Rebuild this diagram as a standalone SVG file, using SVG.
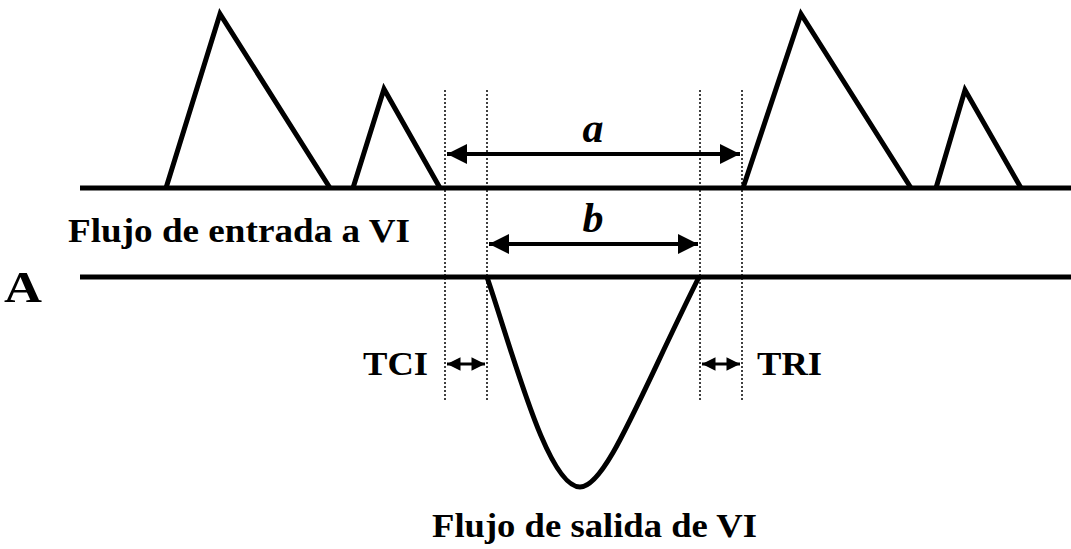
<svg xmlns="http://www.w3.org/2000/svg" width="1071" height="549" viewBox="0 0 1071 549">
<style>
.ln{fill:none;stroke:#000;stroke-width:5;stroke-linejoin:miter}
.dot{stroke:#000;stroke-width:1.5;stroke-dasharray:2 2}
.ar{stroke:#000;stroke-width:4}
.sa{stroke:#000;stroke-width:3}
.t{font-family:"Liberation Serif","DejaVu Serif","Times New Roman",Times,serif;font-weight:bold;fill:#000}
</style>
<defs>
<marker id="ah" viewBox="0 0 10 10" refX="10" refY="5" markerWidth="7" markerHeight="5" orient="auto-start-reverse" markerUnits="strokeWidth"><path d="M0,0L10,5L0,10z" fill="#000"/></marker>
<marker id="sh" viewBox="0 0 10 10" refX="10" refY="5" markerWidth="5" markerHeight="4.5" orient="auto-start-reverse" markerUnits="strokeWidth"><path d="M0,0L10,5L0,10z" fill="#000"/></marker>
</defs>
<g id="inflow">
<line class="ln" x1="80" y1="188" x2="1071" y2="188"/>
<polyline class="ln" points="166,188 220,14 330,188"/>
<polyline class="ln" points="353,188 384,89 440,188"/>
<polyline class="ln" points="743,188 801,14 911,188"/>
<polyline class="ln" points="936,188 965,90 1021,188"/>
</g>
<g id="outflow">
<line class="ln" x1="80" y1="277" x2="1071" y2="277"/>
<path class="ln" d="M487,277 C515,360 548,487 580,487 C606,487 640,395 699,277"/>
</g>
<g id="guides">
<line class="dot" x1="445" y1="90" x2="445" y2="400"/>
<line class="dot" x1="487" y1="90" x2="487" y2="400"/>
<line class="dot" x1="700" y1="90" x2="700" y2="400"/>
<line class="dot" x1="742" y1="90" x2="742" y2="400"/>
</g>
<g id="connectors">
<line class="ar" x1="447" y1="154" x2="740" y2="154" marker-start="url(#ah)" marker-end="url(#ah)"/>
<line class="ar" x1="489" y1="244" x2="698" y2="244" marker-start="url(#ah)" marker-end="url(#ah)"/>
<line class="sa" x1="447" y1="364" x2="485" y2="364" marker-start="url(#sh)" marker-end="url(#sh)"/>
<line class="sa" x1="702" y1="364" x2="740" y2="364" marker-start="url(#sh)" marker-end="url(#sh)"/>
</g>
<g id="labels">
<text class="t" x="593" y="142" font-size="42" font-style="italic" text-anchor="middle">a</text>
<text class="t" x="593" y="232" font-size="42" font-style="italic" text-anchor="middle">b</text>
<text class="t" x="68" y="242" font-size="34" textLength="342" lengthAdjust="spacingAndGlyphs">Flujo de entrada a VI</text>
<text class="t" x="4" y="302" font-size="44" textLength="38" lengthAdjust="spacingAndGlyphs">A</text>
<text class="t" x="363" y="375" font-size="34" textLength="65" lengthAdjust="spacingAndGlyphs">TCI</text>
<text class="t" x="757" y="375" font-size="34" textLength="65" lengthAdjust="spacingAndGlyphs">TRI</text>
<text class="t" x="432" y="537" font-size="34" textLength="325" lengthAdjust="spacingAndGlyphs">Flujo de salida de VI</text>
</g>
</svg>
